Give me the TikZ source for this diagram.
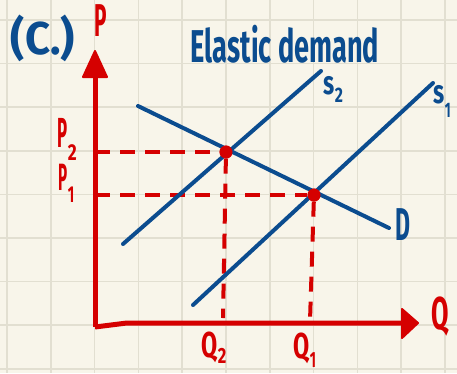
\documentclass[tikz,border=0pt]{standalone}
\usepackage{fontspec}
\setmainfont{Fira Sans}
\definecolor{paper}{HTML}{F8F5EA}
\definecolor{gridc}{HTML}{E2DFD1}
\definecolor{inkblue}{HTML}{0B4C8F}
\definecolor{inkred}{HTML}{D50000}
\newcommand\hsq[2]{\scalebox{#1}[1]{#2}}
\newcommand\fsz[1]{\bfseries\fontsize{#1}{#1}\selectfont}
\begin{document}
\begin{tikzpicture}[x=1pt,y=-1pt,
  blueline/.style={inkblue,line width=4pt,line cap=round},
  redaxis/.style={inkred,line width=5pt,line join=round},
  reddash/.style={inkred,line width=4pt,dash pattern=on 15pt off 10pt},
  arrowhead/.style={inkred,fill=inkred,line width=2pt,line join=round},
  dot/.style={circle,fill=inkred,inner sep=0pt,minimum size=13pt},
  bluetext/.style={inkblue,inner sep=0pt,font=\fsz{46}},
  redtext/.style={inkred,inner sep=0pt,font=\fsz{46}},
  sublabel/.style={inner sep=0pt,anchor=base west}]
% paper and grid
\fill[paper] (0,0) rectangle (457,373);
\useasboundingbox (0,0) rectangle (457,373);
\foreach \i in {0,...,10} \draw[gridc,line width=1.6pt] ({7+43.8*\i},0) -- ({7+43.8*\i},373);
\foreach \j in {0,...,8} \draw[gridc,line width=1.6pt] (0,{20+43.6*\j}) -- (457,{20+43.6*\j});
% coordinates
\coordinate (O) at (95,327);
\coordinate (Okink) at (127,323);
\coordinate (Ptip) at (95,70);
\coordinate (Qtip) at (405,323);
\coordinate (P2a) at (95,152);
\coordinate (P1a) at (95,195);
\coordinate (Q2a) at (223,318);
\coordinate (Q1a) at (310,321);
\coordinate (D1) at (138,106);
\coordinate (D2) at (389,228);
\coordinate (S2a) at (123,244);
\coordinate (S2b) at (321,71);
\coordinate (S1a) at (193,305);
\coordinate (S1b) at (433,83);
% equilibrium points
\node[dot] (E2) at (226,152) {};
\node[dot] (E1) at (314,195) {};
% dashed guides
\draw[reddash] (P2a) -- (E2);
\draw[reddash] (P1a) -- (E1);
\draw[reddash] (E2) -- (Q2a);
\draw[reddash] (E1) -- (Q1a);
% axes
\draw[redaxis] (O) -- (Ptip);
\draw[redaxis] (O) -- (Okink) -- (Qtip);
\filldraw[arrowhead] (83,77) -- (95,51) -- (107,77) -- cycle;
\filldraw[arrowhead] (402,309) -- (418,323) -- (402,338) -- cycle;
% curves
\draw[blueline] (D1) -- (D2);
\draw[blueline] (S2a) -- (S2b);
\draw[blueline] (S1a) -- (S1b);
\node[dot] at (E2) {};
\node[dot] at (E1) {};
% labels
\node[bluetext,xscale=0.95] (title) at (43,38) {(C.)};
\node[bluetext,xscale=0.59] (elastic) at (285,44) {Elastic demand};
\node[redtext,xscale=0.45] (Plab) at (101,21) {P};
\node[redtext,xscale=0.55] (Qlab) at (440,317) {Q};
\node[bluetext,xscale=0.5] (Dlab) at (403,225) {D};
\node[sublabel,inkblue] (s2) at (323,94)
  {\fsz{33}\hsq{0.7}{s}\kern0.5pt\raisebox{-8pt}{\fsz{21}\hsq{0.75}{2}}};
\node[sublabel,inkblue] (s1) at (433,103)
  {\fsz{33}\hsq{0.7}{s}\kern0.5pt\raisebox{-14pt}{\fsz{21}\hsq{0.6}{1}}};
\node[sublabel,inkred] (P2lab) at (57,147)
  {\fsz{42}\hsq{0.4}{P}\kern0.5pt\raisebox{-13pt}{\fsz{23}\hsq{0.75}{2}}};
\node[sublabel,inkred] (P1lab) at (58,190)
  {\fsz{38}\hsq{0.4}{P}\kern0.5pt\raisebox{-12pt}{\fsz{23}\hsq{0.6}{1}}};
\node[sublabel,inkred] (Q2lab) at (201,357)
  {\fsz{36}\hsq{0.65}{Q}\kern0.5pt\raisebox{-6pt}{\fsz{22}\hsq{0.75}{2}}};
\node[sublabel,inkred] (Q1lab) at (293,358)
  {\fsz{36}\hsq{0.65}{Q}\kern0.5pt\raisebox{-9pt}{\fsz{22}\hsq{0.6}{1}}};
\end{tikzpicture}
\end{document}
